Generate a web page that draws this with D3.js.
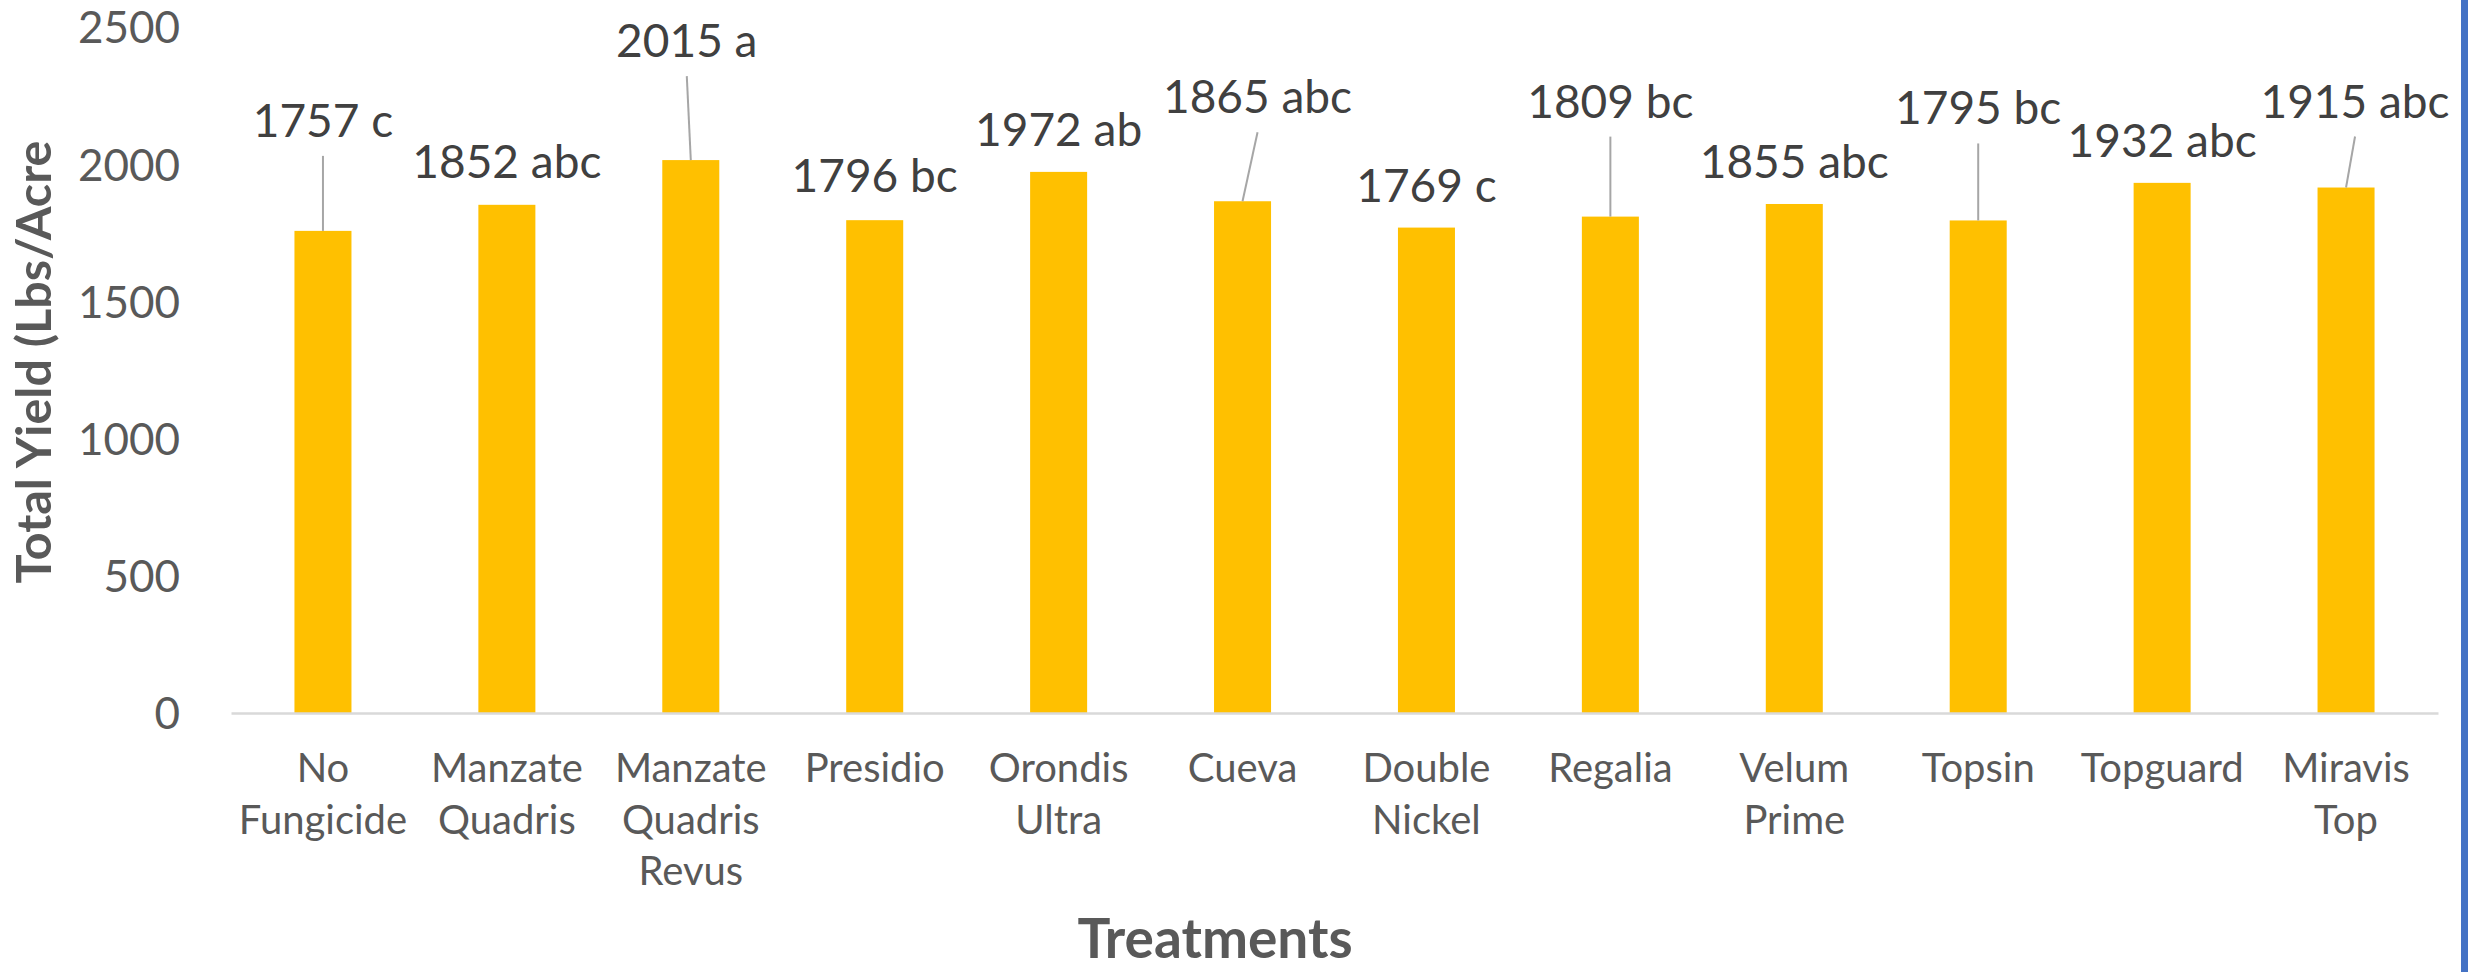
<!DOCTYPE html>
<html>
<head>
<meta charset="utf-8">
<script src="https://cdn.jsdelivr.net/npm/d3@7"></script>
<style>
  html, body { margin: 0; padding: 0; background: #fff; }
  svg { display: block; font-family: Lato, "Open Sans", sans-serif; }
</style>
</head>
<body>
<div class="svg-wrap"></div>
<script>
// data
const treatments = ["No Fungicide", "Manzate Quadris", "Manzate Quadris Revus", "Presidio",
  "Orondis Ultra", "Cueva", "Double Nickel", "Regalia", "Velum Prime", "Topsin",
  "Topguard", "Miravis Top"];
const yieldValues = [1757, 1852, 2015, 1796, 1972, 1865, 1769, 1809, 1855, 1795, 1932, 1915];
const letterGroups = ["c", "abc", "a", "bc", "ab", "abc", "c", "bc", "abc", "bc", "abc", "abc"];
const yTicks = [0, 500, 1000, 1500, 2000, 2500];

// where Excel put each data label (pixels above bar top, sideways shift)
const labelLift = [94, 27, 103, 28, 26, 88, 26, 99, 26, 96, 26, 70];
const labelShift = [0, 0, -4, 0, 0, 15, 0, 0, 0, 0, 0, 9];

const width = 2468;
const height = 972;
const plotLeft = 231, plotRight = 2438, plotBottom = 713, plotTop = 27;

let svg = d3.select(".svg-wrap")
  .append("svg")
  .attr("width", width)
  .attr("height", height)
  .style("background-color", "white");

let x = d3.scaleBand()
  .domain(treatments)
  .range([plotLeft, plotRight])
  .paddingInner(0.69)
  .paddingOuter(0.345);

let y = d3.scaleLinear()
  .domain([0, 2500])
  .range([plotBottom, plotTop]);

// y axis (labels only)
let yAxis = d3.axisLeft(y).tickValues(yTicks).tickFormat(d3.format("d")).tickSize(0).tickPadding(0);
svg.append("g")
  .attr("id", "y-axis")
  .attr("transform", "translate(180,0)")
  .call(yAxis)
  .call(g => g.select(".domain").remove())
  .selectAll("text")
  .attr("font-family", "Lato")
  .attr("font-size", 44)
  .attr("fill", "#595959")
  .attr("dy", "0.36em");

// bars
svg.append("g")
  .selectAll("rect")
  .data(yieldValues)
  .enter()
  .append("rect")
  .attr("class", "bar")
  .attr("x", (d, i) => x(treatments[i]))
  .attr("y", d => y(d))
  .attr("width", x.bandwidth())
  .attr("height", d => y(0) - y(d))
  .style("fill", "#FFC000");

// x axis
let xAxis = d3.axisBottom(x).tickSize(0).tickPadding(0);
let gx = svg.append("g")
  .attr("id", "x-axis")
  .attr("transform", `translate(0,${plotBottom})`)
  .call(xAxis);
gx.select(".domain")
  .attr("stroke", "#D9D9D9")
  .attr("stroke-width", 2.5);
gx.selectAll("text").each(function (d) {
  let t = d3.select(this).text(null)
    .attr("font-family", "Lato")
    .attr("font-size", 40)
    .attr("fill", "#595959")
    .attr("y", 0)
    .attr("dy", null);
  d.split(" ").forEach((w, k) => {
    t.append("tspan").attr("x", 0).attr("y", 69 + k * 51.5).text(w);
  });
});

// data labels with leader lines
let labels = svg.append("g");
yieldValues.forEach((v, i) => {
  let bx = x(treatments[i]) + x.bandwidth() / 2;
  let lx = bx + labelShift[i];
  let base = y(v) - labelLift[i];
  if (labelLift[i] > 40) {
    labels.append("line")
      .attr("x1", lx).attr("y1", base + 19)
      .attr("x2", bx).attr("y2", y(v))
      .attr("stroke", "#A6A6A6")
      .attr("stroke-width", 2);
  }
  labels.append("text")
    .attr("x", lx)
    .attr("y", base)
    .attr("text-anchor", "middle")
    .attr("font-size", 46)
    .attr("fill", "#404040")
    .text(v + " " + letterGroups[i]);
});

// axis titles
svg.append("text")
  .attr("transform", "rotate(-90)")
  .attr("x", -362)
  .attr("y", 51)
  .attr("text-anchor", "middle")
  .attr("font-weight", "bold")
  .attr("font-size", 48.5)
  .attr("fill", "#595959")
  .text("Total Yield (Lbs/Acre");

svg.append("text")
  .attr("x", 1215)
  .attr("y", 958)
  .attr("text-anchor", "middle")
  .attr("font-weight", "bold")
  .attr("font-size", 55)
  .attr("fill", "#595959")
  .text("Treatments");

// blue frame edge on the right
svg.append("rect")
  .attr("x", 2461)
  .attr("y", 0)
  .attr("width", 7)
  .attr("height", height)
  .style("fill", "#4472C4");
</script>
</body>
</html>
